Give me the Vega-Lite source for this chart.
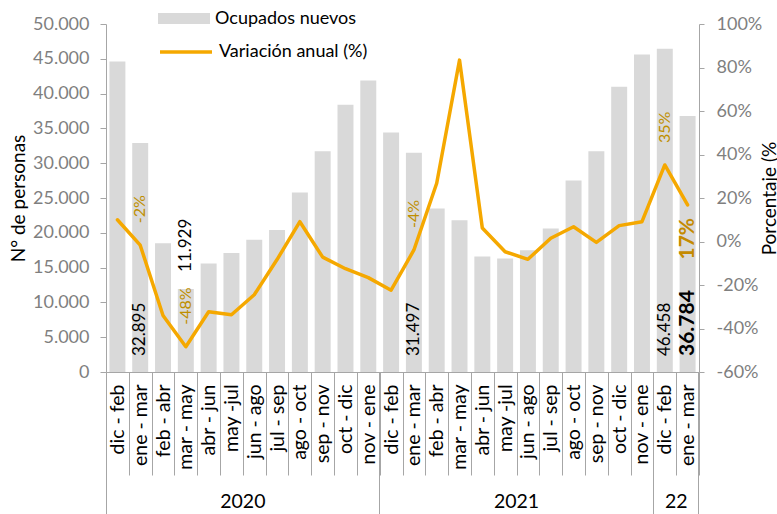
{
  "$schema": "https://vega.github.io/schema/vega-lite/v6.json",
  "width": 593,
  "height": 348,
  "autosize": {"type": "none"},
  "padding": {"left": 106, "top": 24, "right": 78, "bottom": 142},
  "background": "white",
  "config": {
    "view": {"stroke": null},
    "locale": {"number": {"decimal": ",", "thousands": ".", "grouping": [3], "currency": ["", " €"], "minus": "-"}},
    "font": "Lato",
    "axis": {"labelFont": "Lato", "titleFont": "Lato", "grid": false},
    "legend": {"labelFont": "Lato"}
  },
  "data": {
    "values": [
      {"key": "dic - feb|2020", "n": 44600, "pct": 0.10},
      {"key": "ene - mar|2020", "n": 32895, "pct": -0.017},
      {"key": "feb - abr|2020", "n": 18500, "pct": -0.34},
      {"key": "mar - may|2020", "n": 11929, "pct": -0.484},
      {"key": "abr - jun|2020", "n": 15600, "pct": -0.323},
      {"key": "may -jul|2020", "n": 17100, "pct": -0.337},
      {"key": "jun - ago|2020", "n": 19000, "pct": -0.245},
      {"key": "jul - sep|2020", "n": 20400, "pct": -0.083},
      {"key": "ago - oct|2020", "n": 25800, "pct": 0.091},
      {"key": "sep - nov|2020", "n": 31700, "pct": -0.072},
      {"key": "oct - dic|2020", "n": 38400, "pct": -0.125},
      {"key": "nov - ene|2020", "n": 41900, "pct": -0.166},
      {"key": "dic - feb|2021", "n": 34400, "pct": -0.224},
      {"key": "ene - mar|2021", "n": 31497, "pct": -0.039},
      {"key": "feb - abr|2021", "n": 23500, "pct": 0.268},
      {"key": "mar - may|2021", "n": 21800, "pct": 0.834},
      {"key": "abr - jun|2021", "n": 16600, "pct": 0.062},
      {"key": "may -jul|2021", "n": 16300, "pct": -0.047},
      {"key": "jun - ago|2021", "n": 17500, "pct": -0.082},
      {"key": "jul - sep|2021", "n": 20600, "pct": 0.015},
      {"key": "ago - oct|2021", "n": 27500, "pct": 0.068},
      {"key": "sep - nov|2021", "n": 31700, "pct": -0.004},
      {"key": "oct - dic|2021", "n": 41000, "pct": 0.073},
      {"key": "nov - ene|2021", "n": 45600, "pct": 0.091},
      {"key": "dic - feb|22", "n": 46458, "pct": 0.352},
      {"key": "ene - mar|22", "n": 36784, "pct": 0.168}
    ]
  },
  "layer": [
    {
      "encoding": {
        "x": {
          "field": "key", "type": "nominal", "sort": null,
          "scale": {
            "domain": ["dic - feb|2020", "ene - mar|2020", "feb - abr|2020", "mar - may|2020", "abr - jun|2020", "may -jul|2020", "jun - ago|2020", "jul - sep|2020", "ago - oct|2020", "sep - nov|2020", "oct - dic|2020", "nov - ene|2020", "dic - feb|2021", "ene - mar|2021", "feb - abr|2021", "mar - may|2021", "abr - jun|2021", "may -jul|2021", "jun - ago|2021", "jul - sep|2021", "ago - oct|2021", "sep - nov|2021", "oct - dic|2021", "nov - ene|2021", "dic - feb|22", "ene - mar|22"],
            "paddingInner": 0, "paddingOuter": 0
          },
          "axis": {
            "orient": "bottom",
            "title": null,
            "labelExpr": "datum.value ? split(datum.value, '|')[0] : ''",
            "labelAngle": 270, "labelAlign": "right", "labelBaseline": "middle",
            "labelFont": "Lato", "labelFontSize": 19.5, "labelColor": "#000000",
            "labelPadding": -91, "labelOverlap": false, "labelBound": false,
            "tickBand": "extent", "tickSize": 103, "tickColor": "#A6A6A6", "tickWidth": 1,
            "domainColor": "#A6A6A6", "domainWidth": 1
          }
        },
        "y": {
          "field": "n", "type": "quantitative",
          "scale": {"domain": [0, 50000], "nice": false, "zero": true},
          "axis": {
            "orient": "left",
            "values": [0, 5000, 10000, 15000, 20000, 25000, 30000, 35000, 40000, 45000, 50000],
            "format": ",d",
            "title": "N° de personas",
            "titleFont": "Lato", "titleFontSize": 19, "titleFontWeight": "normal", "titleColor": "#000000",
            "titleAngle": 270, "titleX": -88, "titleY": 174, "titleAlign": "center", "titleBaseline": "middle",
            "labelFont": "Lato", "labelFontSize": 18, "labelColor": "#7F7F7F", "labelPadding": 11,
            "tickSize": 6, "tickColor": "#A6A6A6", "domainColor": "#A6A6A6"
          }
        }
      },
      "layer": [
        {
          "mark": {"type": "bar", "width": {"band": 0.7}},
          "encoding": {
            "fill": {
              "datum": "Ocupados nuevos",
              "scale": {"range": ["#D9D9D9"]},
              "legend": {
                "orient": "none", "legendX": 52, "legendY": -31.5, "title": null,
                "symbolType": "M-1,-0.21H1V0.21H-1Z", "symbolSize": 2704, "symbolStrokeWidth": 0,
                "labelFont": "Lato", "labelFontSize": 18, "labelColor": "#000000", "labelOffset": 5, "padding": 0
              }
            }
          }
        },
        {
          "transform": [{"filter": "indexof(['ene - mar|2020', 'ene - mar|2021', 'dic - feb|22'], datum.key) >= 0"}],
          "mark": {"type": "text", "angle": 270, "align": "left", "baseline": "middle", "dx": 16, "font": "Lato", "fontSize": 17, "color": "#000000"},
          "encoding": {
            "y": {"datum": 0},
            "text": {"field": "n", "type": "quantitative", "format": ",d"}
          }
        },
        {
          "transform": [{"filter": "datum.key == 'ene - mar|22'"}],
          "mark": {"type": "text", "angle": 270, "align": "left", "baseline": "middle", "dx": 16, "font": "Lato", "fontSize": 21, "fontWeight": "bold", "color": "#000000"},
          "encoding": {
            "y": {"datum": 0},
            "text": {"field": "n", "type": "quantitative", "format": ",d"}
          }
        },
        {
          "transform": [{"filter": "datum.key == 'mar - may|2020'"}],
          "mark": {"type": "text", "angle": 270, "align": "left", "baseline": "middle", "dx": 17, "font": "Lato", "fontSize": 17, "color": "#000000"},
          "encoding": {
            "text": {"field": "n", "type": "quantitative", "format": ",d"}
          }
        }
      ]
    },
    {
      "encoding": {
        "y": {
          "field": "pct", "type": "quantitative",
          "scale": {"domain": [-0.6, 1], "nice": false, "zero": false},
          "axis": {
            "orient": "right",
            "values": [-0.6, -0.4, -0.2, 0, 0.2, 0.4, 0.6, 0.8, 1],
            "format": ".0%",
            "title": "Porcentaje (%",
            "titleFont": "Lato", "titleFontSize": 19, "titleFontWeight": "normal", "titleColor": "#000000",
            "titleAngle": 270, "titleX": 76, "titleY": 174, "titleAlign": "center", "titleBaseline": "alphabetic",
            "labelFont": "Lato", "labelFontSize": 18, "labelColor": "#7F7F7F", "labelPadding": 12,
            "tickSize": 5, "tickColor": "#A6A6A6", "domainColor": "#A6A6A6"
          }
        }
      },
      "layer": [
        {
          "mark": {"type": "line", "strokeWidth": 3.5, "strokeJoin": "round", "strokeCap": "round"},
          "encoding": {
            "x": {
              "field": "key", "type": "nominal", "sort": null,
              "axis": {
                "orient": "bottom",
                "title": null, "values": ["nov - ene|2020", "nov - ene|2021", "ene - mar|22"],
                "bandPosition": 1, "labels": false, "domain": false,
                "tickSize": 142, "tickColor": "#A6A6A6", "tickWidth": 1
              }
            },
            "stroke": {
              "datum": "Variación anual (%)",
              "scale": {"range": ["#F5A800"]},
              "legend": {
                "orient": "none", "legendX": 52, "legendY": 0, "title": null,
                "symbolType": "stroke", "symbolSize": 2704, "symbolStrokeWidth": 3.5,
                "labelFont": "Lato", "labelFontSize": 18, "labelColor": "#000000", "labelOffset": 5, "padding": 0
              }
            }
          }
        },
        {
          "transform": [{"filter": "indexof(['ene - mar|2020', 'mar - may|2020', 'ene - mar|2021', 'dic - feb|22'], datum.key) >= 0"}],
          "mark": {"type": "text", "angle": 270, "align": "left", "baseline": "middle", "dx": 22, "font": "Lato", "fontSize": 16, "color": "#BF8F00"},
          "encoding": {
            "x": {
              "field": "key", "type": "nominal", "sort": null,
              "axis": {
                "orient": "bottom",
                "title": null, "values": ["dic - feb|2020"],
                "bandPosition": 0, "labels": false, "domain": false,
                "tickSize": 142, "tickColor": "#A6A6A6", "tickWidth": 1
              }
            },
            "text": {"field": "pct", "type": "quantitative", "format": ".0%"}
          }
        },
        {
          "transform": [{"filter": "datum.key == 'ene - mar|22'"}],
          "mark": {"type": "text", "angle": 270, "align": "right", "baseline": "middle", "dx": -13, "font": "Lato", "fontSize": 21, "fontWeight": "bold", "color": "#C48A00"},
          "encoding": {
            "x": {
              "field": "key", "type": "nominal", "sort": null,
              "axis": {
                "orient": "bottom",
                "title": null, "values": ["may -jul|2020", "may -jul|2021", "dic - feb|22"],
                "labelExpr": "split(datum.value, '|')[1]",
                "labelAngle": 0, "labelAlign": "center", "labelBaseline": "top",
                "labelOffset": 11.4, "labelPadding": 120,
                "labelFont": "Lato", "labelFontSize": 19.5, "labelColor": "#000000",
                "ticks": false, "tickSize": 0, "domain": false
              }
            },
            "text": {"field": "pct", "type": "quantitative", "format": ".0%"}
          }
        }
      ],
      "resolve": {"axis": {"x": "independent"}}
    }
  ],
  "resolve": {"scale": {"y": "independent"}, "axis": {"x": "independent"}}
}
